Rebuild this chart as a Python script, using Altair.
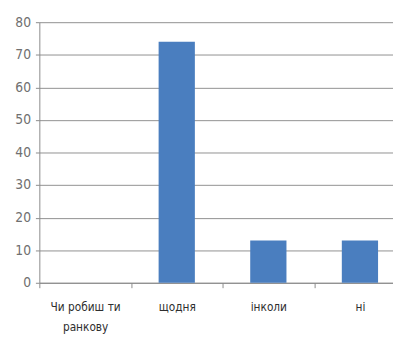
import altair as alt
import pandas as pd

categories = ["Чи робиш ти\nранкову", "щодня", "інколи", "ні"]
values = [0, 74, 13, 13]
y_ticks = [0, 10, 20, 30, 40, 50, 60, 70, 80]

df = pd.DataFrame({"cat": categories, "val": values})

FONT = "DejaVu Sans Condensed, Liberation Sans Narrow, sans-serif"

chart = alt.Chart(df).mark_bar(size=37, color="#4A7EBF").encode(
    x=alt.X("cat:N", sort=categories, title=None,
            scale=alt.Scale(range=[0, 374], paddingInner=0, paddingOuter=0),
            axis=alt.Axis(labelAngle=0, labelExpr="split(datum.label, '\\n')",
                          labelFont=FONT, labelFontSize=12, labelColor="#2e2e2e",
                          labelPadding=14, labelLineHeight=21, tickBand="extent",
                          tickSize=5, tickColor="#8a8a8a", domainColor="#8a8a8a",
                          grid=False)),
    y=alt.Y("val:Q", title=None,
            scale=alt.Scale(domain=[0, 80], nice=False),
            axis=alt.Axis(values=y_ticks, labelFont=FONT,
                          labelFontSize=14, labelColor="#707070", labelPadding=5,
                          tickSize=4, tickColor="#8a8a8a", domainColor="#8a8a8a",
                          gridColor="#8f8f8f", gridWidth=1, gridOpacity=1)),
).properties(
    width=355, height=266,
    autosize=alt.AutoSizeParams(type="none"),
    padding={"left": 32, "top": 11, "right": 6, "bottom": 60},
).configure(background="#ffffff").configure_view(stroke=None)

chart.save("out.html", embed_options={"renderer": "svg", "actions": False})
